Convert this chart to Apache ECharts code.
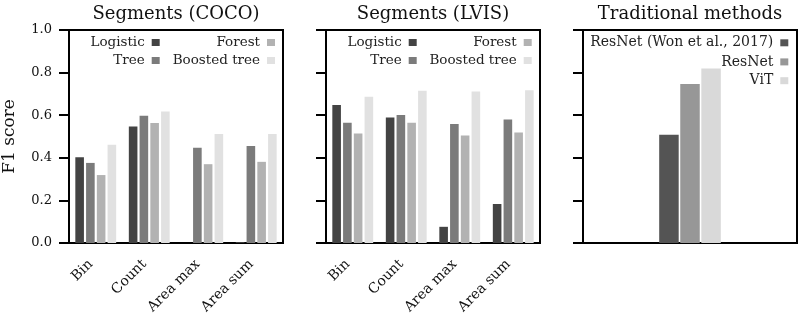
<!DOCTYPE html>
<html><head><meta charset="utf-8">
<script src="https://cdn.jsdelivr.net/npm/echarts@6/dist/echarts.min.js"></script>
<style>html,body{margin:0;padding:0;background:#fff}#c{width:798px;height:319px}</style>
</head><body><div id="c"></div>
<script>
const categories = ['Bin', 'Count', 'Area max', 'Area sum'];
const modelNames = ['Logistic', 'Tree', 'Forest', 'Boosted tree'];
const cocoLogistic = [0.403, 0.547, 0.0, 0.004];
const cocoTree = [0.376, 0.598, 0.447, 0.455];
const cocoForest = [0.319, 0.563, 0.370, 0.381];
const cocoBoosted = [0.461, 0.617, 0.512, 0.512];
const lvisLogistic = [0.648, 0.589, 0.076, 0.183];
const lvisTree = [0.564, 0.601, 0.559, 0.580];
const lvisForest = [0.514, 0.564, 0.505, 0.519];
const lvisBoosted = [0.687, 0.715, 0.711, 0.717];
const tradNames = ['ResNet (Won et al., 2017)', 'ResNet', 'ViT'];
const tradValues = [0.508, 0.747, 0.819];
const panelTitles = ['Segments (COCO)', 'Segments (LVIS)', 'Traditional methods'];
const yTickLabels = ['0.0', '0.2', '0.4', '0.6', '0.8', '1.0'];

const FONT = 'DejaVu Serif';
const modelColors = ['#434343', '#7b7b7b', '#b2b2b2', '#e1e1e1'];
const tradColors = ['#545454', '#979797', '#d9d9d9'];

const gridLefts = [69, 326, 583];
const GW = 214, GTOP = 30, GH = 213;

const grids = gridLefts.map(l => ({
  left: l, top: GTOP, width: GW, height: GH, show: true,
  borderColor: '#000', borderWidth: 2, backgroundColor: 'transparent'
}));

const xAxes = gridLefts.map((l, i) => ({
  type: 'category', gridIndex: i,
  data: i < 2 ? categories : ['methods'],
  axisLine: {lineStyle: {color: '#000', width: 2}},
  axisTick: {show: false},
  axisLabel: i < 2 ? {rotate: 45, fontFamily: FONT, fontSize: 14, color: '#111',
    margin: 24, verticalAlign: 'bottom', lineHeight: 14} : {show: false}
}));

const yAxes = gridLefts.map((l, i) => ({
  type: 'value', gridIndex: i, min: 0, max: 1, interval: 0.2,
  name: i === 0 ? 'F1 score' : '', nameLocation: 'middle', nameGap: 51,
  nameTextStyle: {fontFamily: FONT, fontSize: 17, color: '#111'},
  splitLine: {show: false},
  axisLine: {show: true, lineStyle: {color: '#000', width: 2}},
  axisTick: {show: true, length: 10, lineStyle: {color: '#000', width: 2}},
  axisLabel: i === 0 ? {
    fontFamily: FONT, fontSize: 13, color: '#111', margin: 17,
    formatter: v => yTickLabels[Math.round(v * 5)]
  } : {show: false}
}));

const series = [];
const cocoData = [cocoLogistic, cocoTree, cocoForest, cocoBoosted];
const lvisData = [lvisLogistic, lvisTree, lvisForest, lvisBoosted];
[cocoData, lvisData].forEach((set, gi) => {
  set.forEach((arr, k) => {
    series.push({
      type: 'bar', name: modelNames[k], xAxisIndex: gi, yAxisIndex: gi,
      data: arr, barWidth: 8.6, barGap: '25%',
      itemStyle: {color: modelColors[k]}, silent: true
    });
  });
});
tradNames.forEach((n, k) => {
  series.push({
    type: 'bar', name: n, xAxisIndex: 2, yAxisIndex: 2,
    data: [tradValues[k]], barWidth: 19.5, barGap: '8%',
    itemStyle: {color: tradColors[k]}, silent: true
  });
});

function leg(name, right, centerY, fs) {
  return {
    data: [name], right: right, top: centerY - 7.5, padding: 0,
    align: 'right', icon: 'rect', itemWidth: 8, itemHeight: 7,
    selectedMode: false,
    textStyle: {fontFamily: FONT, fontSize: fs || 13.5, color: '#222', lineHeight: 15, padding: [0, 2, 0, 0]}
  };
}
const legends = [
  leg('Logistic', 638.3, 42.5), leg('Tree', 638.3, 60.5),
  leg('Forest', 523, 42.5), leg('Boosted tree', 523, 60.5),
  leg('Logistic', 381.3, 42.5), leg('Tree', 381.3, 60.5),
  leg('Forest', 266.3, 42.5), leg('Boosted tree', 266.3, 60.5),
  leg(tradNames[0], 9.7, 42.8, 14), leg(tradNames[1], 9.7, 61.9, 14), leg(tradNames[2], 9.7, 80.7, 14)
];

const titles = panelTitles.map((t, i) => ({
  text: t, left: gridLefts[i] + GW / 2, top: 5, padding: 0, textAlign: 'center',
  textStyle: {fontFamily: FONT, fontSize: 18, fontWeight: 'normal', color: '#111'}
}));

const chart = echarts.init(document.getElementById('c'), null, {renderer: 'canvas'});
chart.setOption({
  animation: false,
  title: titles,
  grid: grids, xAxis: xAxes, yAxis: yAxes,
  legend: legends,
  series: series
});
</script></body></html>
